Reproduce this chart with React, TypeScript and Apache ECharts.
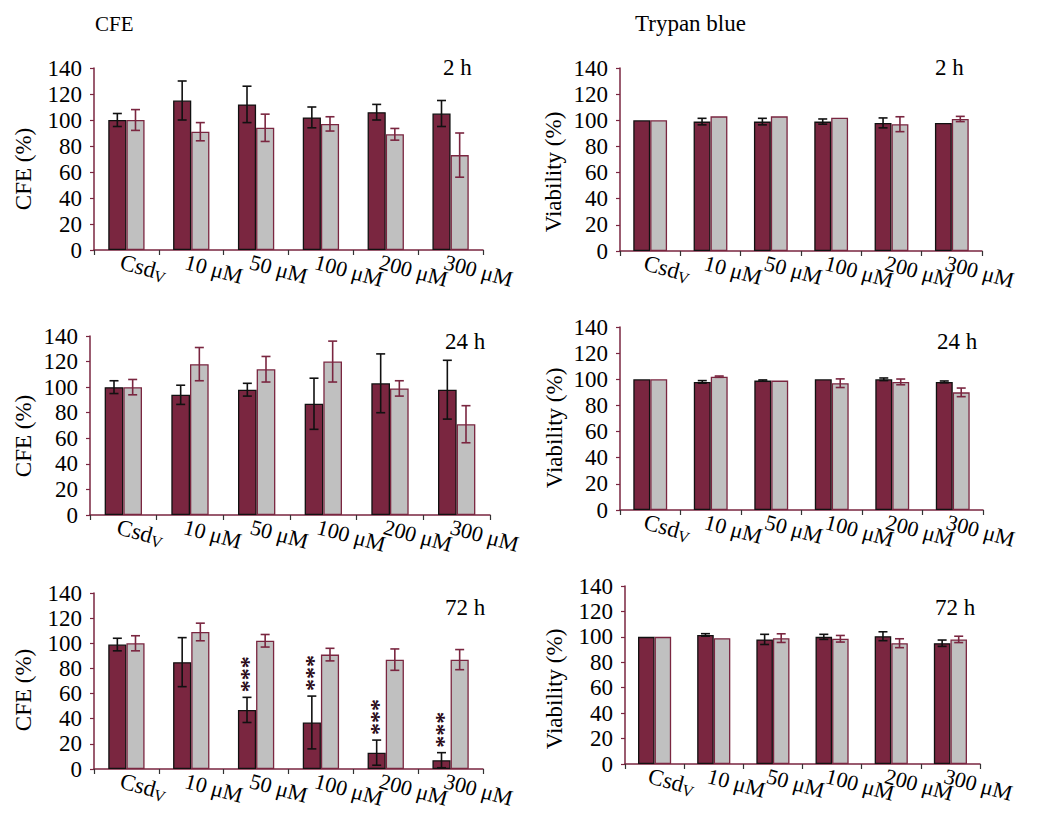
import React, { useEffect, useRef } from "react";
import * as echarts from "echarts";

const categories = ["CsdV", "10 μM", "50 μM", "100 μM", "200 μM", "300 μM"];
const yMin = 0;
const yMax = 140;
const yInterval = 20;

// CFE panels
const cfe2hDark = [100, 115, 112, 102, 106, 105];
const cfe2hDarkErr = [5, 15, 14, 8, 6, 10];
const cfe2hGray = [100, 91, 94, 97, 89, 73];
const cfe2hGrayErr = [8, 7, 10.5, 5.5, 4.5, 17];

const cfe24hDark = [100, 94, 98, 87, 103, 98];
const cfe24hDarkErr = [5, 7.5, 5, 20, 23, 23];
const cfe24hGray = [100, 118, 114, 120, 99, 71];
const cfe24hGrayErr = [6, 13, 10, 16, 6, 14.5];

const cfe72hDark = [99, 85, 47, 37, 13, 7];
const cfe72hDarkErr = [5, 19.5, 10, 21, 10, 6];
const cfe72hGray = [100, 109, 102, 91, 87, 87];
const cfe72hGrayErr = [6, 7, 5, 5, 8.5, 8];
const cfe72hStars = ["", "", "***", "***", "***", "***"];

// Trypan blue panels
const tb2hDark = [100, 99, 99, 99, 98, 98];
const tb2hDarkErr = [0, 2.5, 2.5, 2, 3.8, 0];
const tb2hGray = [100, 103, 103, 102, 97, 101];
const tb2hGrayErr = [0, 0, 0, 0, 5.7, 2];

const tb24hDark = [100, 98, 99, 100, 100, 98];
const tb24hDarkErr = [0, 1, 0.5, 0, 1, 0.7];
const tb24hGray = [100, 102, 99, 97, 98, 90];
const tb24hGrayErr = [0, 0.5, 0, 3.3, 2.2, 3.3];

const tb72hDark = [100, 101.5, 98, 100, 100.5, 95];
const tb72hDarkErr = [0, 1, 4, 2, 3.5, 2.5];
const tb72hGray = [100, 99, 99, 98.5, 95, 98];
const tb72hGrayErr = [0, 0, 3.4, 2.6, 3.5, 2.5];

const FONT = "'Liberation Serif', 'Times New Roman', serif";
const DARK = "#7a2640";
const GRAY = "#c0c0c0";
const AXIS = "#7a2640";
const GAP = 0.44;

type Panel = {
  left: number; top: number; width: number; height: number;
  yName: string; nameX: number; nameY: number;
  dark: number[]; darkErr: number[]; gray: number[]; grayErr: number[];
  stars?: string[];
  tag: string; tagX: number; tagY: number;
};

const panels: Panel[] = [
  { left: 94, top: 68, width: 389, height: 182, yName: "CFE (%)", nameX: 23, nameY: 169,
    dark: cfe2hDark, darkErr: cfe2hDarkErr, gray: cfe2hGray, grayErr: cfe2hGrayErr,
    tag: "2 h", tagX: 443, tagY: 68 },
  { left: 620, top: 68, width: 362, height: 183, yName: "Viability (%)", nameX: 553, nameY: 172,
    dark: tb2hDark, darkErr: tb2hDarkErr, gray: tb2hGray, grayErr: tb2hGrayErr,
    tag: "2 h", tagX: 935, tagY: 68 },
  { left: 90, top: 336, width: 400, height: 179, yName: "CFE (%)", nameX: 23, nameY: 436,
    dark: cfe24hDark, darkErr: cfe24hDarkErr, gray: cfe24hGray, grayErr: cfe24hGrayErr,
    tag: "24 h", tagX: 445, tagY: 342 },
  { left: 620, top: 327, width: 363, height: 183, yName: "Viability (%)", nameX: 554, nameY: 428,
    dark: tb24hDark, darkErr: tb24hDarkErr, gray: tb24hGray, grayErr: tb24hGrayErr,
    tag: "24 h", tagX: 937, tagY: 342 },
  { left: 94, top: 593, width: 389, height: 176, yName: "CFE (%)", nameX: 23, nameY: 690,
    dark: cfe72hDark, darkErr: cfe72hDarkErr, gray: cfe72hGray, grayErr: cfe72hGrayErr,
    stars: cfe72hStars, tag: "72 h", tagX: 445, tagY: 608 },
  { left: 625, top: 586, width: 355, height: 178, yName: "Viability (%)", nameX: 554, nameY: 689,
    dark: tb72hDark, darkErr: tb72hDarkErr, gray: tb72hGray, grayErr: tb72hGrayErr,
    tag: "72 h", tagX: 935, tagY: 608 },
];

function makeErrRender(side: number, color: string, stars?: string[]) {
  return (params: any, api: any) => {
    const idx = api.value(0);
    const v = api.value(1);
    const e = api.value(2);
    const c = api.coord([idx, v]);
    const catW = api.size([1, 0])[0];
    const barW = (catW * (1 - GAP)) / 2;
    const x = c[0] + (side * barW) / 2;
    const top = api.coord([idx, v + e])[1];
    const bot = api.coord([idx, Math.max(v - e, 0)])[1];
    const cap = 4.5;
    const st = { stroke: color, lineWidth: 1.6 };
    const children: any[] = [];
    if (e > 0) {
      children.push({ type: "line", shape: { x1: x, y1: top, x2: x, y2: bot }, style: st });
      children.push({ type: "line", shape: { x1: x - cap, y1: top, x2: x + cap, y2: top }, style: st });
      children.push({ type: "line", shape: { x1: x - cap, y1: bot, x2: x + cap, y2: bot }, style: st });
    }
    const s = stars ? stars[params.dataIndex] : "";
    if (s) {
      children.push({
        type: "text",
        x: x + 1,
        y: top - 5,
        rotation: Math.PI / 2,
        style: {
          text: s, fontSize: 24, fontFamily: FONT,
          fontWeight: "bold", fill: "#2a0a18", align: "left", verticalAlign: "middle",
        },
      });
    }
    return { type: "group", children };
  };
}

export default function App() {
  const ref = useRef<HTMLDivElement>(null);
  useEffect(() => {
    if (!ref.current) return;
    const chart = echarts.init(ref.current, null, { renderer: "svg" });
    const grid: any[] = [];
    const xAxis: any[] = [];
    const yAxis: any[] = [];
    const series: any[] = [];
    const graphic: any[] = [
      { type: "text", left: 95, top: 13, style: { text: "CFE", fontSize: 21, fontFamily: FONT, fill: "#000" } },
      { type: "text", left: 635, top: 12, style: { text: "Trypan blue", fontSize: 23, fontFamily: FONT, fill: "#000" } },
    ];
    panels.forEach((p, i) => {
      grid.push({ left: p.left, top: p.top, width: p.width, height: p.height, containLabel: false });
      xAxis.push({
        type: "category", gridIndex: i, data: categories,
        axisLine: { lineStyle: { color: AXIS, width: 1.5 } },
        axisTick: { show: true, inside: false, length: 5, lineStyle: { color: "#333", width: 1.2 } },
        axisLabel: {
          interval: 0, rotate: -15, margin: 13, fontSize: 22, fontFamily: FONT, color: "#000",
          padding: [0, 0, 0, -6],
          formatter: (val: string) => (val === "CsdV" ? "{m|Csd}{s|V}" : val),
          rich: {
            m: { fontSize: 23, fontFamily: FONT, color: "#000" },
            s: { fontSize: 16, fontFamily: FONT, color: "#000", padding: [9, 0, 0, 0] },
          },
        },
        splitLine: { show: false },
      });
      yAxis.push({
        type: "value", gridIndex: i, min: yMin, max: yMax, interval: yInterval,
        axisLine: { show: true, lineStyle: { color: AXIS, width: 1.5 } },
        axisTick: { show: true, inside: false, length: 4, lineStyle: { color: AXIS, width: 1.2 } },
        axisLabel: { fontSize: 23, fontFamily: FONT, color: "#000", margin: 12 },
        splitLine: { show: false },
      });
      series.push({
        type: "bar", xAxisIndex: i, yAxisIndex: i, data: p.dark,
        barGap: "0%", barCategoryGap: GAP * 100 + "%",
        itemStyle: { color: DARK, borderColor: "#111", borderWidth: 1.3 },
      });
      series.push({
        type: "bar", xAxisIndex: i, yAxisIndex: i, data: p.gray,
        barGap: "0%", barCategoryGap: GAP * 100 + "%",
        itemStyle: { color: GRAY, borderColor: DARK, borderWidth: 1.3 },
      });
      series.push({
        type: "custom", xAxisIndex: i, yAxisIndex: i, z: 5, clip: false,
        data: p.dark.map((v, k) => [k, v, p.darkErr[k]]),
        encode: { x: 0, y: 1 },
        renderItem: makeErrRender(-1, "#111", p.stars),
      });
      series.push({
        type: "custom", xAxisIndex: i, yAxisIndex: i, z: 5, clip: false,
        data: p.gray.map((v, k) => [k, v, p.grayErr[k]]),
        encode: { x: 0, y: 1 },
        renderItem: makeErrRender(1, DARK),
      });
      graphic.push({
        type: "text", left: p.tagX, top: p.tagY - 12,
        style: { text: p.tag, fontSize: 23, fontFamily: FONT, fill: "#000" },
      });
      graphic.push({
        type: "text", x: p.nameX, y: p.nameY, rotation: Math.PI / 2,
        style: {
          text: p.yName, fontSize: 23, fontFamily: FONT, fill: "#000",
          align: "center", verticalAlign: "middle",
        },
      });
    });
    chart.setOption({
      animation: false,
      backgroundColor: "#fff",
      grid, xAxis, yAxis, series, graphic,
    });
    return () => chart.dispose();
  }, []);
  return (
    <div
      ref={ref}
      style={{ position: "absolute", left: 0, top: 0, width: 1044, height: 819 }}
    />
  );
}
